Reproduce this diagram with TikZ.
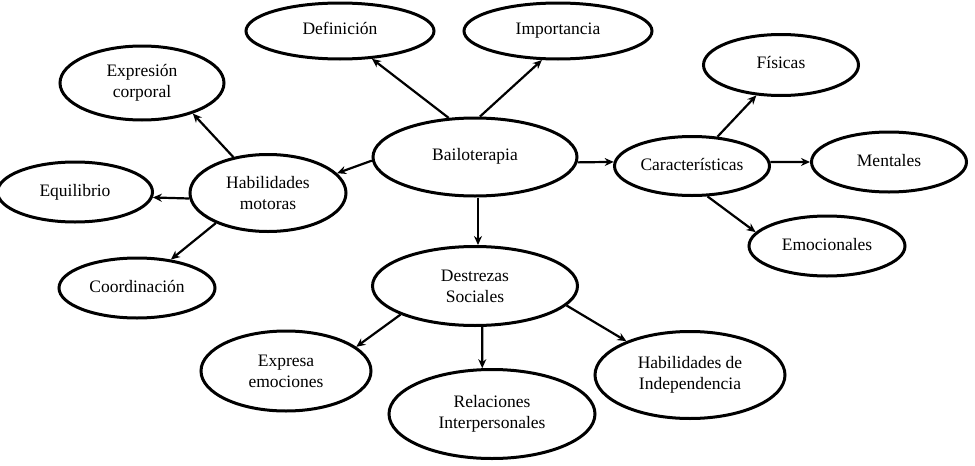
\documentclass[tikz,border=0pt]{standalone}
\usepackage{fontspec}
\setmainfont{Liberation Serif}
\usetikzlibrary{shapes.geometric,arrows.meta}
\begin{document}
\begin{tikzpicture}[x=1pt,y=-1pt,
  bub/.style={ellipse,draw,line width=3pt,inner sep=0pt,align=center,
    font=\fontsize{17.5}{21}\selectfont},
  arr/.style={line width=2.2pt,-{Stealth[length=9pt,width=8pt]}}]
\useasboundingbox (0,0) rectangle (975,466);
\node[bub,minimum width=188pt,minimum height=56pt] (def) at (340,31) {\raisebox{5pt}{Definición}};
\node[bub,minimum width=188pt,minimum height=56pt] (imp) at (558,31) {\raisebox{5pt}{Importancia}};
\node[bub,minimum width=164pt,minimum height=74pt] (expc) at (142,83) {Expresión\\corporal};
\node[bub,minimum width=204pt,minimum height=78pt] (bai) at (475,157) {\raisebox{5pt}{Bailoterapia}};
\node[bub,minimum width=156pt,minimum height=77pt] (hab) at (268,193) {Habilidades\\motoras};
\node[bub,minimum width=155pt,minimum height=60pt] (equ) at (75,192) {\raisebox{2pt}{Equilibrio}};
\node[bub,minimum width=156pt,minimum height=60pt] (coo) at (137,288) {\raisebox{3pt}{Coordinación}};
\node[bub,minimum width=155pt,minimum height=59pt] (car) at (692,166) {\raisebox{3pt}{Características}};
\node[bub,minimum width=155pt,minimum height=61pt] (fis) at (781,65) {\raisebox{5pt}{Físicas}};
\node[bub,minimum width=155pt,minimum height=60pt] (men) at (889,162) {\raisebox{3pt}{Mentales}};
\node[bub,minimum width=156pt,minimum height=60pt] (emo) at (827,246) {\raisebox{3pt}{Emocionales}};
\node[bub,minimum width=205pt,minimum height=79pt] (des) at (475,286) {Destrezas\\Sociales};
\node[bub,minimum width=170pt,minimum height=80pt] (expe) at (286,371) {Expresa\\emociones};
\node[bub,minimum width=206pt,minimum height=89pt] (rel) at (492,414) {Relaciones\\Interpersonales};
\node[bub,minimum width=190pt,minimum height=87pt] (ind) at (690,375) {Habilidades de\\Independencia};

\draw[arr] (bai.124) -- (def.-41);
\draw[arr] (bai.83) -- (imp.-119);
\draw[arr] (bai.182) -- (hab.16);
\draw[arr] (hab.134) -- (expc.-31);
\draw[arr] (hab.184) -- (equ.-4);
\draw[arr] (hab.210) -- (coo.40);
\draw[arr] ([xshift=3pt]bai.south) -- ([xshift=3pt]des.north);
\draw[arr] (bai.-3) -- (car.177);
\draw[arr] (car.49) -- (fis.-129);
\draw[arr] (car.3) -- (men.180);
\draw[arr] (car.-63) -- (emo.169);
\draw[arr] (des.201) -- (expe.19);
\draw[arr] (des.-80) -- (rel.102);
\draw[arr] (des.-12) -- (ind.152);
\end{tikzpicture}
\end{document}
